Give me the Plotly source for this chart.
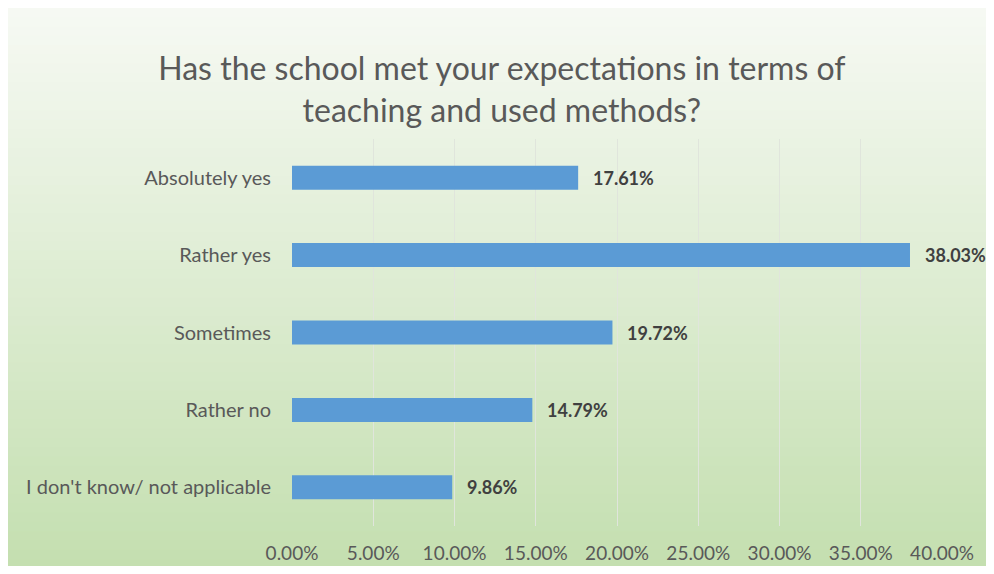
import plotly.graph_objects as go

# data
answers = ['Absolutely yes', 'Rather yes', 'Sometimes', 'Rather no',
           "I don't know/ not applicable"]
shares = [0.1761, 0.3803, 0.1972, 0.1479, 0.0986]
x_ticks = [0, 0.05, 0.10, 0.15, 0.20, 0.25, 0.30, 0.35, 0.40]

FONT = 'Lato'
GREY = '#595959'

fig = go.Figure()

fig.add_trace(go.Bar(
    x=shares,
    y=answers,
    orientation='h',
    marker=dict(color='#5b9bd5', line=dict(width=0)),
    hoverinfo='x+y',
    showlegend=False,
))

# value labels just to the right of the bars
for a, s in zip(answers, shares):
    fig.add_annotation(x=s, y=a, text='<b>%.2f%%</b>' % (s * 100),
                       showarrow=False, xanchor='left', xshift=13,
                       font=dict(family=FONT, size=18, color='#404040'))

# soft green gradient behind the chart, like the Excel chart area
top = (246, 249, 243)
bot = (196, 223, 176)
n = 60
y_top, y_bot = 1.34, -0.11
for i in range(n):
    t = i / (n - 1)
    c = tuple(round(top[k] + (bot[k] - top[k]) * t) for k in range(3))
    fig.add_shape(type='rect', xref='paper', yref='paper', layer='below',
                  x0=-0.45, x1=1.1,
                  y0=y_top - (y_top - y_bot) * (i + 1) / n - 0.002,
                  y1=y_top - (y_top - y_bot) * i / n,
                  fillcolor='rgb(%d,%d,%d)' % c, line=dict(width=0))

fig.update_layout(
    width=978, height=558,
    margin=dict(l=284, r=44, t=131, b=40),
    paper_bgcolor='white',
    plot_bgcolor='rgba(0,0,0,0)',
    bargap=0.69,
    title=dict(text='Has the school met your expectations in terms of<br>teaching and used methods?',
               x=0.505, xanchor='center', y=0.871, yanchor='middle',
               font=dict(family=FONT, size=32, color=GREY)),
    font=dict(family=FONT, size=19, color=GREY),
)

fig.update_xaxes(range=[0, 0.40], tickvals=x_ticks, tickformat='.2%',
                 showgrid=True, gridcolor='rgb(224,229,220)', gridwidth=1,
                 zeroline=False, showline=False, ticklabelstandoff=14,
                 automargin=False,
                 tickfont=dict(family=FONT, size=19, color=GREY))
fig.update_yaxes(categoryorder='array', categoryarray=answers[::-1],
                 showgrid=False, showline=False, ticklabelstandoff=20,
                 automargin=False,
                 tickfont=dict(family=FONT, size=20, color=GREY))

fig.write_html("out.html")
